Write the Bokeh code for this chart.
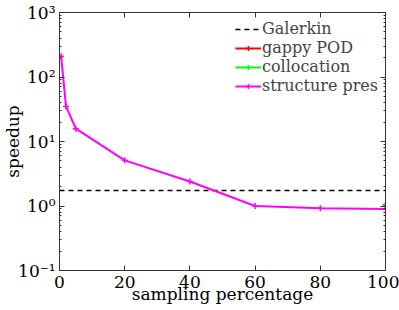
from bokeh.plotting import figure
from bokeh.models import FixedTicker, LinearAxis, LogAxis, Legend, LegendItem, Range1d, CustomJSTickFormatter
from bokeh.embed import file_html
from bokeh.resources import INLINE

# data
sampling = [0.5, 2, 5, 20, 40, 60, 80, 100]
structure_pres = [210, 35, 15.8, 5.1, 2.4, 1.0, 0.92, 0.9]
galerkin_x = [0, 100]
galerkin_y = [1.74, 1.74]
gappy_x = [100]
gappy_y = [1.0]
colloc_x = [100]
colloc_y = [1.06]
y_ticks = [0.1, 1, 10, 100, 1000]
y_tick_labels = ["10⁻¹", "10⁰", "10¹", "10²", "10³"]
x_ticks = [0, 20, 40, 60, 80, 100]

FONT = "DejaVu Serif"
FS = "17px"

p = figure(width=399, height=310, y_axis_type="log",
           x_range=Range1d(0, 100), y_range=Range1d(0.1, 1000),
           output_backend="svg", toolbar_location=None,
           min_border_left=58, min_border_top=12, min_border_right=14, min_border_bottom=40)
p.grid.visible = False
p.outline_line_color = "#333333"
p.background_fill_color = "white"

minor = [m * 10.0 ** e for e in range(-1, 3) for m in range(2, 10)]

def style_axis(ax):
    ax.major_tick_in = 5
    ax.major_tick_out = 0
    ax.minor_tick_in = 2
    ax.minor_tick_out = 0
    ax.axis_line_color = "#333333"
    ax.major_tick_line_color = "#333333"
    ax.minor_tick_line_color = "#333333"
    ax.major_label_text_font = FONT
    ax.major_label_text_font_size = FS
    ax.major_label_text_color = "black"
    ax.axis_label_text_font = FONT
    ax.axis_label_text_font_size = FS
    ax.axis_label_text_font_style = "normal"
    ax.axis_label_text_color = "black"

xa = p.xaxis[0]
xa.ticker = FixedTicker(ticks=x_ticks)
xa.axis_label = "sampling percentage"
style_axis(xa)
xa.major_label_standoff = 5
xa.axis_label_standoff = -7
xa.minor_tick_in = 0

ya = p.yaxis[0]
ya.ticker = FixedTicker(ticks=y_ticks, minor_ticks=minor)
ya.major_label_overrides = {t: l for t, l in zip(y_ticks, y_tick_labels)}
ya.axis_label = "speedup"
style_axis(ya)
ya.major_label_standoff = 4
ya.axis_label_standoff = -8

blank = CustomJSTickFormatter(code='return ""')
top = LinearAxis(ticker=FixedTicker(ticks=x_ticks), formatter=blank)
style_axis(top)
top.minor_tick_in = 0
top.major_label_standoff = 0
top.axis_label_standoff = 0
p.add_layout(top, "above")
right = LogAxis(ticker=FixedTicker(ticks=y_ticks, minor_ticks=minor), formatter=blank)
style_axis(right)
right.major_label_standoff = 0
right.axis_label_standoff = 0
p.add_layout(right, "right")

g = p.line(galerkin_x, galerkin_y, line_color="black", line_width=1.5, line_dash="5 4")
r1 = p.line(gappy_x, gappy_y, line_color="red", line_width=2)
r1m = p.scatter(gappy_x, gappy_y, marker="cross", size=6, line_color="red", line_width=1.5)
c1 = p.line(colloc_x, colloc_y, line_color="#00ff00", line_width=2)
c1m = p.scatter(colloc_x, colloc_y, marker="cross", size=6, line_color="#00ff00", line_width=1.5)
s1 = p.line(sampling, structure_pres, line_color="#ff00ff", line_width=2)
s1m = p.scatter(sampling, structure_pres, marker="cross", size=6, line_color="#ff00ff", line_width=1.5)

legend = Legend(items=[
    LegendItem(label="Galerkin", renderers=[g]),
    LegendItem(label="gappy POD", renderers=[r1, r1m]),
    LegendItem(label="collocation", renderers=[c1, c1m]),
    LegendItem(label="structure pres", renderers=[s1, s1m]),
], location="top_right")
legend.label_text_font = FONT
legend.label_text_font_size = "16px"
legend.label_height = 12
legend.glyph_height = 12
legend.glyph_width = 26
legend.label_standoff = 1
legend.spacing = -7
legend.padding = 0
legend.margin = 7
legend.border_line_color = None
legend.background_fill_alpha = 0
p.add_layout(legend)

open("out.html", "w").write(file_html(p, INLINE))
